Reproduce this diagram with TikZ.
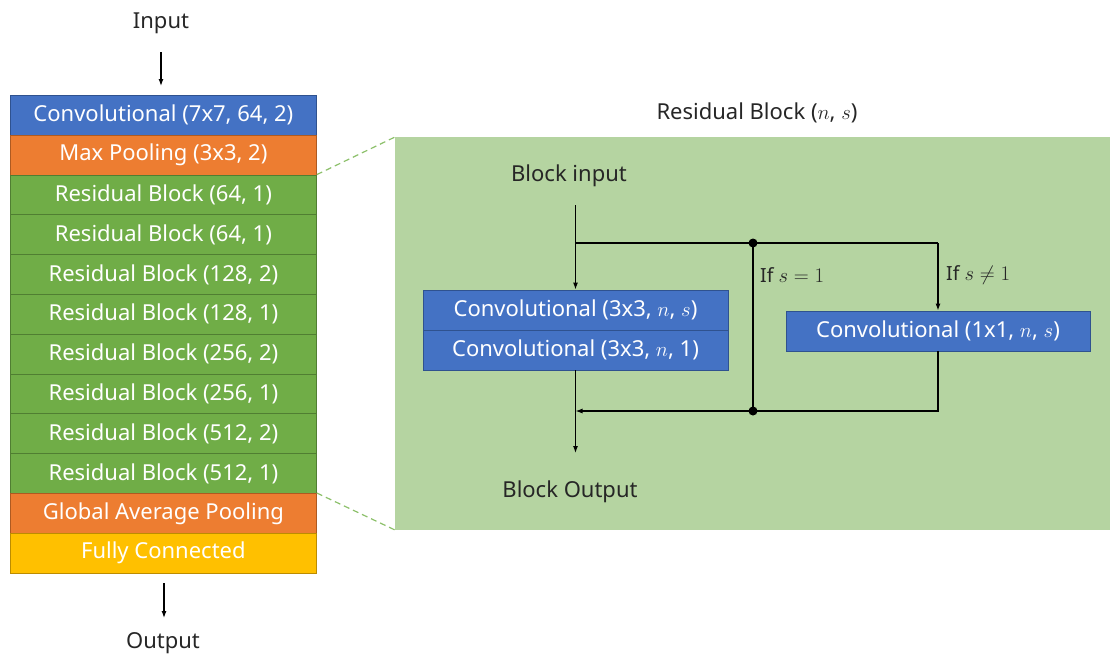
\documentclass[tikz,border=0pt]{standalone}
\usepackage{fontspec}
\setmainfont{Noto Sans}
\usetikzlibrary{arrows.meta,positioning}
\definecolor{cblue}{HTML}{4472C4}
\definecolor{cblueb}{HTML}{2F528F}
\definecolor{corange}{HTML}{ED7D31}
\definecolor{coranb}{HTML}{AE5A21}
\definecolor{cgreen}{HTML}{70AD47}
\definecolor{cgreenb}{HTML}{507E32}
\definecolor{cyellow}{HTML}{FFC000}
\definecolor{cyellb}{HTML}{BC8C00}
\definecolor{cpanel}{HTML}{B5D4A1}
\definecolor{cdash}{HTML}{8CC06A}
\tikzset{
  layer/.style={draw=#1, line width=0.8pt, minimum width=306pt, minimum height=39.8pt,
    inner sep=0pt, anchor=north west, text=white, font=\fontsize{22}{26}\selectfont},
  convbox/.style={draw=cblueb, fill=cblue, line width=0.8pt, minimum height=40pt,
    inner sep=0pt, text=white, font=\fontsize{22}{26}\selectfont},
  lbl/.style={font=\fontsize{22}{26}\selectfont, text=black!85},
  small/.style={font=\fontsize{19.5}{22}\selectfont, text=black!85, anchor=west, inner sep=0pt},
  wire/.style={line width=1.2pt},
  arr/.style={wire, -{Latex[length=7pt,width=5pt]}},
  dotmark/.style={fill=black}
}
\begin{document}
\begin{tikzpicture}[x=1pt,y=-1pt]
\path[use as bounding box] (0,0) rectangle (1110,657);

% --- network stack ---
\node[lbl] (inp) at (161,23) {Input};
\node[layer=cblueb, fill=cblue] (L1) at (10,95.0) {Convolutional (7x7, 64, 2)};
\node[layer=coranb, fill=corange] (L2) at (10,134.8) {Max Pooling (3x3, 2)};
\node[layer=cgreenb, fill=cgreen] (L3) at (10,174.6) {Residual Block (64, 1)};
\node[layer=cgreenb, fill=cgreen] (L4) at (10,214.4) {Residual Block (64, 1)};
\node[layer=cgreenb, fill=cgreen] (L5) at (10,254.2) {Residual Block (128, 2)};
\node[layer=cgreenb, fill=cgreen] (L6) at (10,294.0) {Residual Block (128, 1)};
\node[layer=cgreenb, fill=cgreen] (L7) at (10,333.8) {Residual Block (256, 2)};
\node[layer=cgreenb, fill=cgreen] (L8) at (10,373.6) {Residual Block (256, 1)};
\node[layer=cgreenb, fill=cgreen] (L9) at (10,413.4) {Residual Block (512, 2)};
\node[layer=cgreenb, fill=cgreen] (L10) at (10,453.2) {Residual Block (512, 1)};
\node[layer=coranb, fill=corange] (L11) at (10,493.0) {Global Average Pooling};
\node[layer=cyellb, fill=cyellow] (L12) at (10,532.8) {Fully Connected};
\node[lbl] (outp) at (163,643) {Output};

\coordinate (inA) at (161,52);
\coordinate (inB) at (161,86);
\draw[arr] (inA) -- (inB);
\coordinate (outA) at (164,583);
\coordinate (outB) at (164,618);
\draw[arr] (outA) -- (outB);

% --- residual block detail ---
\node[lbl] (title) at (757,113) {Residual Block ($n$, $s$)};
\coordinate (P1) at (395,137);
\coordinate (P2) at (1110,530);
\fill[cpanel] (P1) rectangle (P2);
\coordinate (P3) at (395,530);
\draw[cdash, line width=1.2pt, dash pattern=on 6pt off 4pt] (L3.north east) -- (P1);
\draw[cdash, line width=1.2pt, dash pattern=on 6pt off 4pt] (L11.north east) -- (P3);

\node[lbl] (bin) at (569,176) {Block input};
\node[lbl] (bout) at (570,492) {Block Output};

\node[convbox, minimum width=305pt] (c1) at (575.5,310) {Convolutional (3x3, $n$, $s$)};
\node[convbox, minimum width=305pt] (c2) at (575.5,350) {Convolutional (3x3, $n$, 1)};
\node[convbox, minimum width=304pt] (c3) at (938,331) {Convolutional (1x1, $n$, $s$)};

\coordinate (top) at (575.5,205);
\coordinate (split) at (575.5,243);
\coordinate (corner) at (938,243);
\coordinate (join) at (575.5,411);
\coordinate (corner2) at (938,411);
\coordinate (endp) at (575.5,453);
\coordinate (d1) at (753,243);
\coordinate (d2) at (753,411);

\draw[arr] (top) -- (c1.north);
\draw[wire] (split) -- (d1) -- (corner);
\draw[arr] (corner) -- (c3.north);
\draw[wire] (d1) -- (d2);
\draw[wire] (c3.south) -- (corner2) -- (d2);
\draw[arr] (d2) -- (join);
\draw[arr] (c2.south) -- (endp);
\fill[dotmark] (d1) circle (4.5pt);
\fill[dotmark] (d2) circle (4.5pt);

\node[small] (s1) at (760,275) {If $s=1$};
\node[small] (s2) at (946,275) {If $s\neq1$};
\end{tikzpicture}
\end{document}
